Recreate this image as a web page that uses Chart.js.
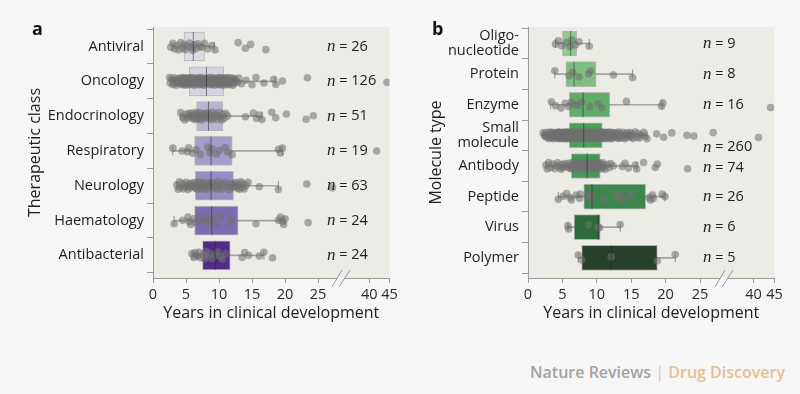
<!DOCTYPE html>
<html>
<head>
<meta charset="utf-8">
<script src="https://cdn.jsdelivr.net/npm/chart.js@4.4.1/dist/chart.umd.min.js"></script>
<style>
  html, body { margin: 0; padding: 0; background: #f6f6f6; }
  body { width: 800px; height: 394px; position: relative; overflow: hidden; font-family: 'Open Sans', sans-serif; }
  canvas { position: absolute; top: 0; }
  #chartA { left: 0; }
  #chartB { left: 400px; }
  .panel { position: absolute; top: 16px; font-weight: 700; font-size: 18px; color: #111; }
  #footer { position: absolute; right: 15px; top: 361px; font-size: 16px; font-weight: 600; color: #a3a3a3; }
  #footer .sep { color: #c8c8c8; font-weight: 400; }
  #footer .journal { color: #e7c08f; }
</style>
</head>
<body>
<canvas id="chartA" width="405" height="330"></canvas>
<canvas id="chartB" width="400" height="330"></canvas>
<div class="panel" style="left:32px">a</div>
<div class="panel" style="left:432px">b</div>
<div id="footer">Nature Reviews <span class="sep">|</span> <span class="journal">Drug Discovery</span></div>
<script>
const xTicks = [0, 5, 10, 15, 20, 25, 40, 45];

// panel a - therapeutic class
const classLabels = ['Antiviral', 'Oncology', 'Endocrinology', 'Respiratory', 'Neurology', 'Haematology', 'Antibacterial'];
const classN = [26, 126, 51, 19, 63, 24, 24];
const classQ1 = [4.7, 5.5, 6.6, 6.3, 6.4, 6.3, 7.5];
const classMedian = [6.1, 8.1, 8.4, 8.8, 8.8, 8.9, 9.4];
const classQ3 = [7.8, 10.7, 10.6, 12.0, 12.2, 12.9, 11.7];
const classLow = [2.9, 2.7, 4.2, 3.0, 3.6, 3.2, 5.9];
const classHigh = [9.3, 18.5, 16.5, 19.6, 19.0, 19.9, 16.8];
const classPoints = [
    [2.7, 3.0, 3.3, 3.6, 3.9, 4.2, 4.5, 4.7, 4.9, 5.2, 5.5, 5.8, 6.0, 6.2, 6.5, 6.8, 7.1, 7.4, 7.8, 8.3, 8.9, 9.4, 12.9, 14.0, 14.8, 17.1],
    [2.5, 2.6, 2.8, 3.0, 3.1, 3.2, 3.4, 3.5, 3.6, 3.7, 3.8, 3.9, 4.0, 4.1, 4.2, 4.3, 4.4, 4.5, 4.5, 4.6, 4.7, 4.8, 4.8, 4.9, 5.0, 5.0, 5.1, 5.2, 5.2, 5.3, 5.4, 5.4,
     5.5, 5.6, 5.7, 5.8, 5.9, 6.0, 6.0, 6.1, 6.2, 6.3, 6.4, 6.5, 6.5, 6.6, 6.7, 6.8, 6.9, 7.0, 7.0, 7.1, 7.2, 7.3, 7.4, 7.5, 7.5, 7.6, 7.7, 7.8, 7.9, 8.0, 8.0,
     8.2, 8.3, 8.4, 8.5, 8.6, 8.7, 8.8, 8.9, 9.0, 9.0, 9.1, 9.2, 9.3, 9.4, 9.5, 9.5, 9.6, 9.7, 9.8, 9.9, 10.0, 10.0, 10.1, 10.2, 10.3, 10.4, 10.5, 10.5, 10.6, 10.6, 10.7,
     10.8, 10.8, 10.9, 10.9, 11.0, 11.1, 11.2, 11.3, 11.4, 11.5, 11.6, 11.7, 11.8, 11.9, 12.0, 12.1, 12.2, 12.3, 12.4, 12.6, 12.8, 13.0, 13.4,
     14.1, 15.0, 15.6, 16.8, 18.3, 18.6, 19.6, 23.4, 44.4],
    [4.2, 4.5, 4.8, 5.0, 5.2, 5.4, 5.6, 5.8, 5.9, 6.0, 6.2, 6.3, 6.5,
     6.6, 6.7, 6.8, 7.0, 7.1, 7.3, 7.4, 7.6, 7.7, 7.9, 8.0, 8.2, 8.3,
     8.4, 8.6, 8.8, 9.0, 9.2, 9.4, 9.6, 9.8, 10.0, 10.2, 10.4, 10.6,
     10.8, 11.0, 11.3, 14.0, 15.2, 15.7, 16.1, 16.5, 18.0, 18.6, 20.2, 23.2, 24.3],
    [3.0, 4.4, 5.2, 5.4, 6.0, 6.5, 7.2, 8.3, 8.6, 8.9, 9.6, 10.0, 10.9, 11.3, 12.0, 19.0, 19.3, 19.6, 41.8],
    [3.6, 3.8, 4.0, 4.2, 4.4, 4.6, 4.8, 5.0, 5.1, 5.3, 5.5, 5.6, 5.8, 5.9, 6.1, 6.3,
     6.4, 6.5, 6.7, 6.9, 7.0, 7.2, 7.4, 7.5, 7.7, 7.9, 8.0, 8.2, 8.4, 8.5, 8.7,
     8.8, 9.0, 9.2, 9.5, 9.7, 9.9, 10.1, 10.3, 10.5, 10.8, 11.0, 11.3, 11.5, 11.8, 12.0, 12.2,
     12.4, 12.5, 12.6, 12.8, 13.0, 13.1, 13.3, 13.5, 13.6, 13.8, 14.1, 14.4, 16.1, 19.0, 23.3, 29.2],
    [3.2, 4.5, 5.3, 5.5, 5.7, 6.2, 6.5, 7.0, 7.5, 8.0, 8.3, 8.6, 9.0, 9.5, 10.3, 11.8, 11.9, 15.6, 19.0, 19.3, 19.6, 19.8, 20.0, 23.5],
    [5.9, 6.2, 6.4, 6.5, 6.8, 7.0, 7.2, 7.6, 7.8, 8.0, 8.3, 8.6, 9.0, 9.4, 9.8, 10.2, 10.5, 11.0, 13.5, 13.9, 14.5, 16.1, 16.8, 18.1]
];

// panel b - molecule type
const moleculeLabels = [['Oligo-', 'nucleotide'], 'Protein', 'Enzyme', ['Small', 'molecule'], 'Antibody', 'Peptide', 'Virus', 'Polymer'];
const moleculeN = [9, 8, 16, 260, 74, 26, 6, 5];
const moleculeQ1 = [5.0, 5.5, 6.0, 6.0, 6.3, 8.1, 6.7, 7.8];
const moleculeMedian = [6.2, 6.7, 8.0, 8.1, 8.6, 9.3, 10.2, 12.1];
const moleculeQ3 = [7.1, 9.9, 11.9, 10.8, 10.5, 17.1, 10.5, 18.8];
const moleculeLow = [4.0, 3.9, 3.3, 2.2, 2.6, 4.4, 5.8, 7.3];
const moleculeHigh = [8.9, 15.2, 19.5, 17.3, 15.8, 19.9, 13.4, 21.4];
const moleculePoints = [
    [4.0, 4.4, 4.9, 5.6, 6.1, 6.4, 6.9, 7.4, 8.9],
    [3.9, 6.0, 6.5, 7.4, 8.8, 9.1, 12.4, 15.2],
    [3.4, 4.0, 4.8, 5.4, 5.9, 6.3, 6.8, 7.3, 7.8, 9.0, 10.2, 10.7, 14.3, 19.4, 19.6, 44.1],
    [2.2, 2.4, 2.5, 2.6, 2.8, 2.9, 3.0, 3.1, 3.2, 3.3, 3.4, 3.5, 3.5, 3.6, 3.7, 3.8, 3.8, 3.9, 4.0, 4.0,
     4.1, 4.2, 4.2, 4.3, 4.4, 4.4, 4.5, 4.5, 4.6, 4.6, 4.7, 4.7, 4.8, 4.8, 4.9, 4.9, 5.0, 5.0, 5.0, 5.1,
     5.1, 5.2, 5.2, 5.2, 5.3, 5.3, 5.4, 5.4, 5.4, 5.5, 5.5, 5.5, 5.6, 5.6, 5.6, 5.7, 5.7, 5.7, 5.8, 5.8,
     5.8, 5.9, 5.9, 5.9, 6.0,
     6.0, 6.0, 6.1, 6.1, 6.1, 6.2, 6.2, 6.2, 6.3, 6.3, 6.3, 6.4, 6.4, 6.4, 6.5, 6.5, 6.5, 6.6, 6.6, 6.6,
     6.7, 6.7, 6.7, 6.8, 6.8, 6.8, 6.9, 6.9, 6.9, 7.0, 7.0, 7.0, 7.1, 7.1, 7.1, 7.2, 7.2, 7.2, 7.3, 7.3,
     7.3, 7.4, 7.4, 7.4, 7.5, 7.5, 7.5, 7.6, 7.6, 7.6, 7.7, 7.7, 7.7, 7.8, 7.8, 7.8, 7.9, 7.9, 7.9, 8.0,
     8.0, 8.0, 8.1, 8.1, 8.1,
     8.2, 8.2, 8.2, 8.3, 8.3, 8.3, 8.4, 8.4, 8.4, 8.5, 8.5, 8.5, 8.6, 8.6, 8.7, 8.7, 8.7, 8.8, 8.8, 8.9,
     8.9, 9.0, 9.0, 9.0, 9.1, 9.1, 9.2, 9.2, 9.3, 9.3, 9.4, 9.4, 9.5, 9.5, 9.6, 9.6, 9.7, 9.7, 9.8, 9.8,
     9.9, 9.9, 10.0, 10.0, 10.1, 10.1, 10.2, 10.2, 10.3, 10.3, 10.4, 10.4, 10.5, 10.5, 10.5, 10.6, 10.6, 10.6, 10.7, 10.7,
     10.7, 10.8, 10.8, 10.8, 10.8,
     10.9, 10.9, 11.0, 11.0, 11.1, 11.1, 11.2, 11.2, 11.3, 11.3, 11.4, 11.4, 11.5, 11.5, 11.6, 11.7, 11.7, 11.8, 11.9, 12.0,
     12.0, 12.1, 12.2, 12.2, 12.3, 12.4, 12.5, 12.6, 12.7, 12.8, 12.9, 13.0, 13.1, 13.2, 13.3, 13.4, 13.5, 13.6, 13.8, 14.0,
     14.1, 14.2, 14.3, 14.5, 14.7, 14.8, 14.9, 15.0, 15.1, 15.3, 15.6, 15.9, 16.0, 16.2, 16.5, 16.8, 17.0, 17.3,
     18.7, 19.7, 20.9, 23.1, 24.1, 28.7, 41.2],
    [2.6, 2.8, 3.0, 3.3, 3.6, 3.9, 4.1, 4.3, 4.6, 4.8, 4.9, 5.1, 5.3, 5.5, 5.7, 5.9, 6.0, 6.2,
     6.3, 6.4, 6.5, 6.7, 6.8, 7.0, 7.1, 7.2, 7.4, 7.5, 7.6, 7.8, 7.9, 8.0, 8.1, 8.2, 8.3, 8.5, 8.6,
     8.7, 8.8, 8.9, 9.0, 9.1, 9.2, 9.3, 9.4, 9.5, 9.6, 9.7, 9.8, 9.9, 10.0, 10.1, 10.2, 10.3, 10.5,
     10.6, 10.7, 10.8, 10.9, 11.0, 11.2, 11.5, 11.8, 12.0, 12.4, 13.7, 14.1, 14.6, 15.6, 15.8, 16.8, 18.5, 18.8, 23.2],
    [4.4, 5.1, 5.6, 6.1, 6.3, 7.0, 7.5, 7.6, 8.7, 9.0, 9.0, 9.3, 9.1, 11.2, 12.8, 13.1, 13.3, 13.7, 14.6, 15.1, 17.6, 17.8, 18.1, 18.2, 19.5, 19.9],
    [5.8, 5.9, 8.8, 10.2, 10.4, 13.4],
    [7.3, 7.8, 12.1, 18.8, 21.4]
];

const classColors = ['#dcdbe4', '#d4d2e3', '#b8b4d4', '#a29dc9', '#958cc2', '#7e6cb2', '#4f2c8a'];
const moleculeColors = ['#8fc98f', '#7ebf81', '#60ae6a', '#4d9e5a', '#459758', '#3d874d', '#2e6b3c', '#25412b'];

// fixed vertical spread for the dots, in category units
const jitter = [0.02, -0.09, 0.07, -0.03, 0.1, -0.11, 0.05, -0.06, 0.09, -0.01, -0.1, 0.03, 0.11, -0.05, 0.06, -0.08, 0.0];

// x axis is broken after 25: [value, fraction of axis length]
const axisBreaks = [[0, 0], [25, 0.6978], [40, 0.9148], [45, 1]];

const LinearBase = Chart.LinearScale || Chart.registry.getScale('linear');

class BrokenScale extends LinearBase {
    toDecimal(v) {
        for (let i = 1; i < axisBreaks.length; i++) {
            const [v0, d0] = axisBreaks[i - 1];
            const [v1, d1] = axisBreaks[i];
            if (v <= v1 || i === axisBreaks.length - 1) {
                return d0 + (v - v0) / (v1 - v0) * (d1 - d0);
            }
        }
        return 0;
    }
    getPixelForValue(v) {
        if (v === null || v === undefined || isNaN(v)) return NaN;
        return this.getPixelForDecimal(this.toDecimal(v));
    }
    getValueForPixel(p) {
        const d = this.getDecimalForPixel(p);
        for (let i = 1; i < axisBreaks.length; i++) {
            const [v0, d0] = axisBreaks[i - 1];
            const [v1, d1] = axisBreaks[i];
            if (d <= d1 || i === axisBreaks.length - 1) {
                return v0 + (d - d0) / (d1 - d0) * (v1 - v0);
            }
        }
        return 0;
    }
}
BrokenScale.id = 'broken';
BrokenScale.defaults = LinearBase.defaults;
Chart.register(BrokenScale);

const font = 'Open Sans';

function drawPanel(canvasId, p) {
    const idx = p.labels.map((_, i) => i);
    const dots = [];
    p.points.forEach((vals, i) => {
        vals.forEach((v, k) => dots.push({ x: v, y: i + jitter[(k + i * 5) % jitter.length] }));
    });

    const decor = {
        id: 'decor',
        beforeDraw(chart) {
            const { ctx, chartArea: a } = chart;
            ctx.save();
            ctx.fillStyle = '#ecebe6';
            ctx.fillRect(a.left, a.top, a.right - a.left, a.bottom - a.top);
            ctx.restore();
        },
        afterDraw(chart) {
            const { ctx, chartArea: a, scales } = chart;
            ctx.save();
            // n labels
            ctx.fillStyle = '#222';
            ctx.textBaseline = 'middle';
            ctx.textAlign = 'left';
            p.n.forEach((count, i) => {
                const y = scales.y.getPixelForValue(i) + (p.nShift[i] || 0);
                let x = a.left + p.nX;
                ctx.font = 'italic 17px "Liberation Serif"';
                ctx.fillText('n', x, y);
                x += ctx.measureText('n').width;
                ctx.font = '14.5px "' + font + '"';
                ctx.fillText(' = ' + count, x, y);
            });
            // axis break marks
            const c = scales.x.getPixelForValue(32.3);
            const yb = a.bottom;
            ctx.fillStyle = '#f6f6f6';
            ctx.fillRect(c - 5.5, yb - 1, 7, 3);
            ctx.strokeStyle = '#9a9a9a';
            ctx.lineWidth = 1;
            ctx.beginPath();
            ctx.moveTo(c - 11, yb + 9); ctx.lineTo(c - 1, yb - 8);
            ctx.moveTo(c - 4, yb + 9); ctx.lineTo(c + 7, yb - 8);
            ctx.stroke();
            ctx.restore();
        }
    };

    return new Chart(document.getElementById(canvasId), {
        type: 'scatter',
        data: {
            datasets: [
                {
                    type: 'scatter', order: 0,
                    data: idx.map(i => ({ x: p.median[i], y: i })),
                    pointStyle: 'line', pointRotation: 90, pointRadius: p.boxH / 2,
                    pointBorderColor: 'rgba(40,40,40,0.55)', pointBorderWidth: 1
                },
                {
                    type: 'scatter', order: 1,
                    data: dots,
                    pointRadius: 3.8, pointBackgroundColor: 'rgba(112,112,112,0.56)', pointBorderWidth: 0
                },
                {
                    type: 'scatter', order: 2,
                    data: idx.flatMap(i => [{ x: p.low[i], y: i }, { x: p.high[i], y: i }]),
                    pointStyle: 'line', pointRotation: 90, pointRadius: 4.5,
                    pointBorderColor: '#8d8d8d', pointBorderWidth: 1
                },
                {
                    type: 'bar', order: 3, indexAxis: 'y', grouped: false,
                    data: idx.map(i => ({ y: i, x: [p.q1[i], p.q3[i]] })),
                    backgroundColor: p.colors, borderColor: 'rgba(0,0,0,0.22)', borderWidth: 1, borderSkipped: false,
                    barThickness: p.boxH, maxBarThickness: p.boxH
                },
                {
                    type: 'bar', order: 4, indexAxis: 'y', grouped: false,
                    data: idx.map(i => ({ y: i, x: [p.low[i], p.high[i]] })),
                    backgroundColor: '#a3a3a3', borderWidth: 0,
                    barThickness: 1, maxBarThickness: 1
                }
            ]
        },
        options: {
            responsive: false,
            animation: false,
            events: [],
            layout: { padding: { left: 0, top: 27, right: p.rightPad, bottom: 0 } },
            plugins: { legend: { display: false }, tooltip: { enabled: false } },
            scales: {
                x: {
                    type: 'broken', min: 0, max: 45, offset: false,
                    afterBuildTicks: s => { s.ticks = xTicks.map(v => ({ value: v })); },
                    afterFit: s => { s.height = 52; s.paddingLeft = 0; s.paddingRight = 0; },
                    ticks: { autoSkip: false, maxRotation: 0, padding: 3, color: '#2a2a2a', font: { family: font, size: 14.5 }, callback: v => String(v) },
                    grid: { drawOnChartArea: false, tickLength: 5, color: '#9a9a9a', offset: false },
                    border: { color: '#9a9a9a' },
                    title: { display: true, text: 'Years in clinical development', color: '#1e1e1e', font: { family: font, size: 16 }, padding: { top: 0, bottom: 7 } }
                },
                y: {
                    type: 'linear', reverse: true, min: p.yMin, max: p.yMax, offset: false,
                    afterBuildTicks: s => { s.ticks = idx.map(v => ({ value: v })); },
                    afterFit: s => { s.width = p.axisWidth; s.paddingTop = 0; s.paddingBottom = 0; },
                    ticks: { autoSkip: false, padding: 3, color: '#1e1e1e', font: { family: font, size: 14.5, lineHeight: 1.08 }, callback: v => p.labels[v] },
                    grid: { drawOnChartArea: false, tickLength: 6, color: '#9a9a9a' },
                    border: { color: '#9a9a9a' },
                    title: { display: true, text: p.title, color: '#1e1e1e', font: { family: font, size: 16 }, padding: { top: p.titlePad, bottom: 0 } }
                }
            }
        },
        plugins: [decor]
    });
}

drawPanel('chartA', {
    labels: classLabels, n: classN, q1: classQ1, median: classMedian, q3: classQ3,
    low: classLow, high: classHigh, points: classPoints, colors: classColors,
    title: 'Therapeutic class', titlePad: 26, axisWidth: 153, rightPad: 5.5,
    yMin: -0.56, yMax: 6.65, boxH: 29, nX: 174, nShift: {}
});

drawPanel('chartB', {
    labels: moleculeLabels, n: moleculeN, q1: moleculeQ1, median: moleculeMedian, q3: moleculeQ3,
    low: moleculeLow, high: moleculeHigh, points: moleculePoints, colors: moleculeColors,
    title: 'Molecule type', titlePad: 27, axisWidth: 128, rightPad: 25.5,
    yMin: -0.54, yMax: 7.66, boxH: 25, nX: 175, nShift: { 3: 12, 4: 2 }
});
</script>
</body>
</html>
